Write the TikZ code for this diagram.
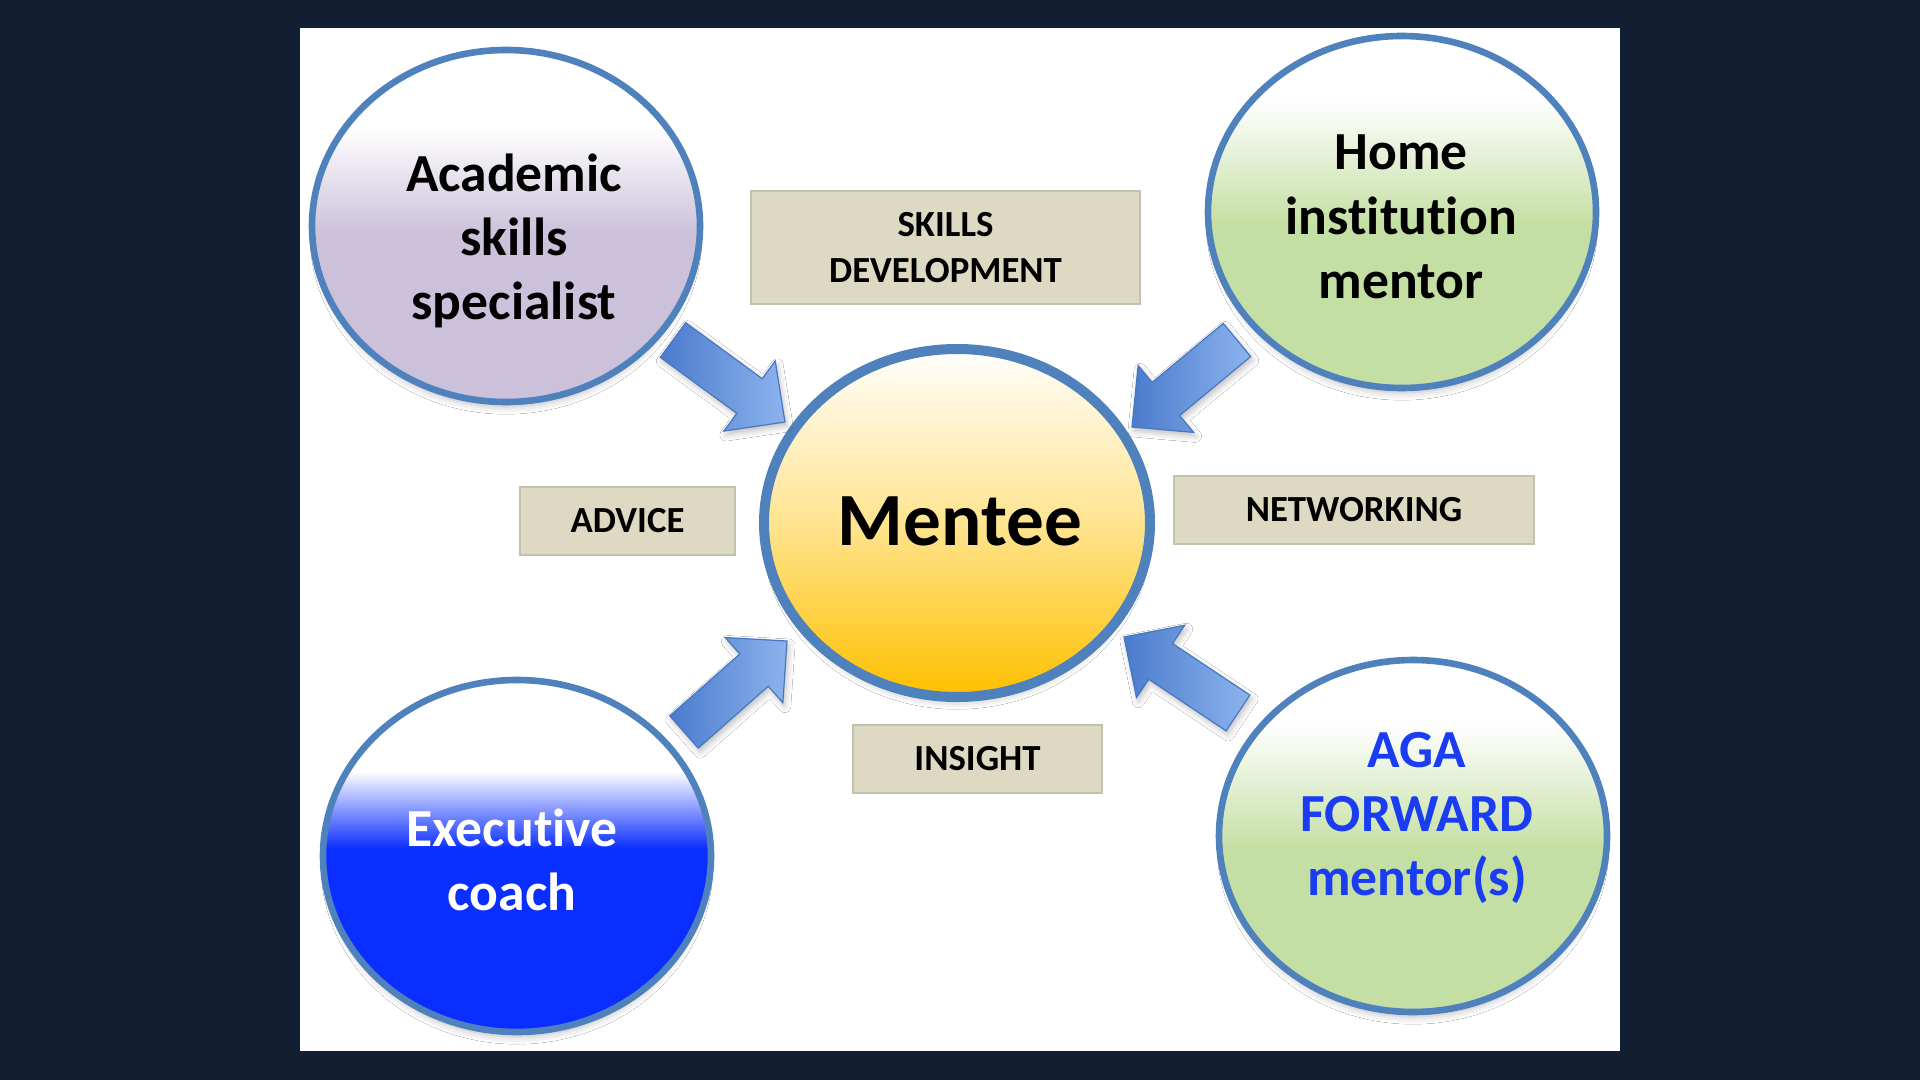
\documentclass[tikz,border=0pt]{standalone}
\usepackage{fontspec}
\setmainfont{Carlito}[RawFeature=-liga]
\usetikzlibrary{calc,shapes.geometric,shadows.blur}

\definecolor{bgnavy}{HTML}{121E32}
\definecolor{lav}{HTML}{CCC1DA}
\definecolor{grn}{HTML}{C4DFA3}
\definecolor{exblue}{HTML}{0A2EFF}
\definecolor{ringblue}{HTML}{4F81BD}
\definecolor{tanbox}{HTML}{DDD9C3}
\definecolor{tanedge}{HTML}{C4C0AE}
\definecolor{gold}{HTML}{FFC000}
\definecolor{goldmid}{HTML}{FFE490}
\definecolor{goldtop}{HTML}{FFF9E6}
\definecolor{arrdark}{HTML}{4A7BCC}
\definecolor{arrlight}{HTML}{8DB3EE}
\definecolor{arredge}{HTML}{4677C0}
\definecolor{agatext}{HTML}{1A3CF2}

\pgfdeclareverticalshading{lavsh}{100bp}{color(0bp)=(lav); color(49bp)=(lav); color(64bp)=(white); color(100bp)=(white)}
\pgfdeclareverticalshading{grnsh}{100bp}{color(0bp)=(grn); color(48bp)=(grn); color(66bp)=(white); color(100bp)=(white)}
\pgfdeclareverticalshading{bluesh}{100bp}{color(0bp)=(exblue); color(51bp)=(exblue); color(56bp)=(exblue!55!white); color(62bp)=(white); color(100bp)=(white)}
\pgfdeclareverticalshading{goldsh}{100bp}{color(0bp)=(gold); color(25bp)=(gold); color(50bp)=(goldmid); color(70bp)=(goldtop); color(75bp)=(white); color(100bp)=(white)}

\newcommand{\blockarr}[2]{%
  \coordinate (#1-n) at ($(#2)!22pt!(#1)$);
  \path[arrowsty] ($(#1)!10.75pt!90:(#2)$) -- ($(#1-n)!10.75pt!90:(#2)$)
    -- ($(#1-n)!21.75pt!90:(#2)$) -- (#2) -- ($(#1-n)!21.75pt!-90:(#2)$)
    -- ($(#1-n)!10.75pt!-90:(#2)$) -- ($(#1)!10.75pt!-90:(#2)$) -- cycle;}

\tikzset{
  circ/.style={ellipse, draw=ringblue, line width=3.3pt, minimum width=194pt, minimum height=176pt,
    blur shadow={shadow xshift=0pt, shadow yshift=-5pt, shadow scale=0.97, shadow blur radius=4pt, shadow opacity=28}},
  big/.style={font=\bfseries\fontsize{26.8}{32.2}\selectfont, align=center},
  boxsty/.style={rectangle, fill=tanbox, draw=tanedge, line width=0.6pt, inner sep=0pt,
    font=\bfseries\fontsize{18.4}{23}\selectfont, align=center, minimum height=34pt},
  arrowsty/.style={draw=arredge, line width=0.6pt, left color=arrdark, right color=arrlight,
    blur shadow={shadow xshift=1pt, shadow yshift=-2pt, shadow blur radius=3pt, shadow opacity=25}}
}

\begin{document}
\begin{tikzpicture}[x=0.5pt,y=-0.5pt]
\useasboundingbox (0,0) rectangle (1920,1080);
\fill[bgnavy] (0,0) rectangle (1920,1080);
\fill[white] (300,28) rectangle (1620,1051);

% circles
\node[circ, shading=lavsh] (acad) at (506,226) {};
\node[circ, shading=grnsh] (home) at (1402,212) {};
\node[circ, shading=bluesh] (exec) at (517,856) {};
\node[circ, shading=grnsh] (aga) at (1413,836) {};
\node[circ, shading=goldsh, line width=5pt, minimum width=193pt, minimum height=174pt] (mentee) at (957,523) {};

% circle texts
\node[big] (acadtxt) at (514,241) {Academic\\skills\\specialist};
\node[big] (hometxt) at (1401,217) {Home\\institution\\mentor};
\node[big, text=white] (exectxt) at (512,860) {Executive\\coach};
\node[big, text=agatext] (agatxt) at (1417,818) {AGA\\FORWARD\\mentor(s)};
\node[font=\bfseries\fontsize{37.6}{42}\selectfont] (mentxt) at (960,521) {Mentee};

% labels
\node[boxsty, minimum width=194.5pt, minimum height=56.5pt] (skills) at (945.5,247.5) {SKILLS\\DEVELOPMENT};
\node[boxsty, minimum width=107.5pt] (advice) at (627.5,521) {ADVICE};
\node[boxsty, minimum width=180pt] (network) at (1354,510) {NETWORKING};
\node[boxsty, minimum width=124.5pt] (insight) at (977.5,759) {INSIGHT};

% arrows
\coordinate (tl-tail) at (673,340);  \coordinate (tl-tip) at (785,422);
\coordinate (tr-tail) at (1237,340); \coordinate (tr-tip) at (1132,427);
\coordinate (bl-tail) at (684,732);  \coordinate (bl-tip) at (787,641);
\coordinate (br-tail) at (1238,713); \coordinate (br-tip) at (1124,637);
\blockarr{tl-tail}{tl-tip}
\blockarr{tr-tail}{tr-tip}
\blockarr{bl-tail}{bl-tip}
\blockarr{br-tail}{br-tip}
\end{tikzpicture}
\end{document}
